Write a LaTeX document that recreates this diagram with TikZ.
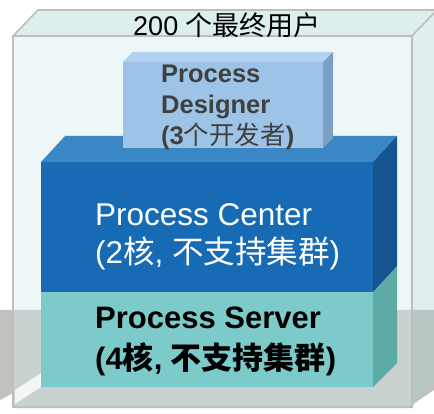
\documentclass[tikz,border=0pt]{standalone}
\usepackage{fontspec}
\setmainfont{Liberation Sans}
\newfontfamily\cjk{Noto Sans CJK SC}
\usepackage{tikz}
\usetikzlibrary{calc}
\definecolor{floorgray}{HTML}{C2C1BE}
\definecolor{glassfront}{HTML}{D5ECEE}
\definecolor{glasstop}{HTML}{DCEEEE}
\definecolor{glassside}{HTML}{A8D0D0}
\definecolor{glassline}{HTML}{BEBEBE}
\definecolor{designfront}{HTML}{9DC3E7}
\definecolor{designtop}{HTML}{B3D2EF}
\definecolor{designside}{HTML}{7C9FC6}
\definecolor{designtext}{HTML}{404040}
\definecolor{centerfront}{HTML}{176BB5}
\definecolor{centertop}{HTML}{3B87C5}
\definecolor{centerside}{HTML}{15548F}
\definecolor{serverfront}{HTML}{7DCACB}
\definecolor{serverside}{HTML}{5DABA7}
\tikzset{>=latex}

\begin{document}
\begin{tikzpicture}[x=1pt, y=-1pt,
  edge/.style={draw=glassline, line width=1.6pt, line join=round},
  txt/.style={inner sep=0pt, anchor=west, align=left}]
\path[use as bounding box, fill=white] (0,0) rectangle (434,414);
% floor behind the glass box
\fill[floorgray] (0,310) -- (434,310) -- (434,390) -- (413,404) -- (413,408) --
  (13,408) -- (13,393) -- (0,400) -- cycle;
% glass box
\fill[glassfront, opacity=0.4] (13,36) rectangle (412,407);
\fill[glasstop] (13,36) -- (38,10) -- (437,10) -- (412,36) -- cycle;
\fill[glassside, opacity=0.35] (412,36) -- (437,10) -- (437,381) -- (412,407) -- cycle;
\fill[white, opacity=0.8] (15,390) -- (41,373) -- (41,387) -- (15,404) -- cycle;
\draw[edge] (13,407) -- (13,36) -- (412,36) -- (412,407) -- cycle;
\draw[edge] (13,36) -- (38,10) -- (437,10);
\draw[edge] (412,36) -- (437,10);
% server
\fill[serverfront] (41,292) rectangle (373,387);
\fill[serverside] (373,292) -- (397,266) -- (397,363) -- (373,387) -- cycle;
% center
\fill[centertop] (41,162) -- (65,136) -- (397,136) -- (373,162) -- cycle;
\fill[centerfront] (41,162) rectangle (373,292);
\fill[centerside] (373,162) -- (397,136) -- (397,266) -- (373,292) -- cycle;
% designer
\fill[designtop] (123,62) -- (133,52) -- (333,52) -- (323,62) -- cycle;
\fill[designfront] (123,62) rectangle (323,148);
\fill[designside] (323,62) -- (333,52) -- (333,138) -- (323,148) -- cycle;
% labels
\node[inner sep=0pt, font=\fontsize{27}{30}\selectfont] (users) at (227,25)
  {200 {\cjk 个最终用户}};
\node[txt, text=designtext, font=\fontsize{25.5}{31}\selectfont\bfseries] (designer) at (161,107)
  {Process\\Designer\\(3{\cjk\mdseries 个开发者})};
\node[txt, text=white, font=\fontsize{31.5}{38}\selectfont] (center) at (95,237)
  {Process Center\\(2{\cjk 核}, {\cjk 不支持集群})};
\node[txt, text=black, font=\fontsize{31}{41}\selectfont\bfseries] (server) at (95,341)
  {Process Server\\(4{\cjk 核}, {\cjk 不支持集群})};
\end{tikzpicture}
\end{document}
